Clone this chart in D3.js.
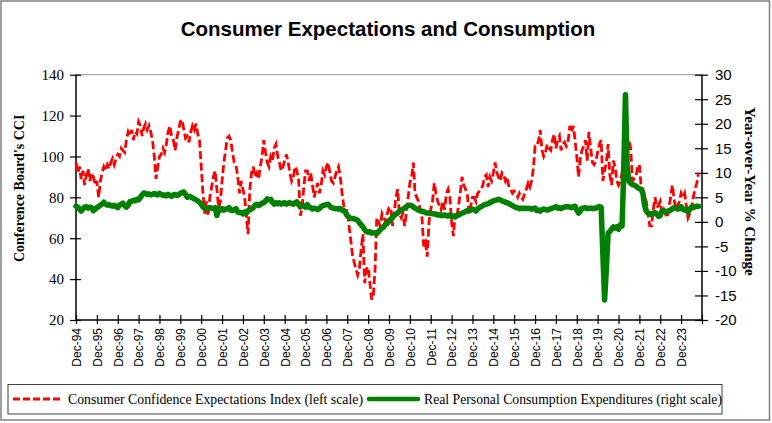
<!DOCTYPE html>
<html><head><meta charset="utf-8">
<script src="https://cdn.jsdelivr.net/npm/d3@7"></script>
<style>
html,body{margin:0;padding:0;background:#fff;}
svg{display:block;}
</style></head>
<body>
<svg id="chart" width="772" height="423"></svg>
<script>
// ---- DATA (monthly, starting Dec 1994) ----
const startYear = 1994, startMonth = 11; // Dec 1994
const cci = [97,
 92,95,89,93,86,91,94,88,92,90,86,88,
 80,88,92,95,93,96,94,97,99,96,99,101,
 100,104,103,102,108,112,110,113,108,112,111,117,
 115,110,114,116,113,115,112,108,100,89,95,100,
 101,104,102,106,112,115,110,108,103,109,113,117,
 118,113,109,110,107,112,115,113,116,111,108,95,
 82,72,78,71,80,85,90,93,84,75,78,88,
 97,103,109,110,108,102,97,96,90,82,88,84,
 80,70,62,84,92,95,90,92,89,95,100,108,
 102,97,95,100,98,104,106,100,97,93,95,98,
 101,97,92,88,90,95,93,89,71,75,85,93,
 93,88,92,86,80,84,87,82,86,93,91,95,
 97,92,88,87,90,93,95,90,82,76,72,74,
 66,59,52,48,45,42,45,55,62,38,45,46,
 38,30,32,45,70,68,66,72,70,68,72,75,
 75,66,72,80,84,72,70,72,66,72,80,87,
 90,97,82,80,78,74,70,56,58,51,68,74,
 78,87,82,78,76,74,78,74,82,84,80,68,
 61,72,70,76,82,90,86,84,82,72,76,80,
 80,78,82,83,84,86,90,91,85,90,88,92,
 97,92,90,88,92,91,88,90,85,84,82,83,
 82,80,82,80,79,82,84,87,85,88,94,105,
 105,108,113,103,100,102,106,104,103,108,111,104,
 108,110,103,106,107,105,107,115,112,115,108,100,
 90,99,103,105,108,98,112,104,97,96,98,102,
 106,108,88,93,97,106,91,86,98,95,88,86,
 88,92,100,104,100,108,104,88,89,90,95,96,
 85,84,80,78,72,66,66,74,80,75,76,78,
 72,74,72,70,75,80,86,79,74,76,78,82,
 80,82,76,70,72,75,80,84,87,92];
const pce = [3.2,
 3.0,2.6,2.2,2.6,3.0,3.1,2.8,3.0,2.9,2.3,2.6,2.9,
 3.1,3.4,3.6,4.0,3.6,3.4,3.5,3.3,3.2,3.4,3.1,2.9,
 3.4,3.6,3.8,3.3,3.0,3.4,4.1,4.2,4.4,4.3,4.6,4.5,
 5.0,5.5,5.9,5.8,5.6,5.7,5.5,5.6,5.8,5.6,5.5,5.8,
 5.6,5.4,5.5,5.3,5.6,5.4,5.2,5.5,5.6,5.4,5.5,5.8,
 6.0,6.1,5.6,5.0,5.2,5.1,4.9,4.7,4.5,4.3,4.0,3.6,
 3.0,2.8,2.7,2.8,2.9,2.8,2.7,2.9,1.3,2.8,2.4,2.7,
 2.4,2.6,2.6,2.9,2.4,2.3,2.5,2.7,2.0,1.9,1.9,1.6,
 2.0,1.8,2.3,2.5,2.6,2.9,3.4,3.6,3.3,3.5,3.8,3.9,
 4.3,4.7,4.5,4.6,4.0,3.6,3.9,3.7,3.9,3.6,3.8,3.9,
 3.6,3.8,3.9,3.7,3.6,3.9,4.1,3.5,3.1,3.2,3.3,3.0,
 3.5,3.0,2.9,2.6,2.8,2.7,2.5,2.7,3.1,3.3,3.4,3.5,
 3.6,3.2,2.9,2.8,2.7,2.7,2.6,2.7,2.4,2.3,1.9,1.3,
 0.9,0.7,0.7,0.6,0.5,0.3,-0.2,-0.6,-1.0,-1.6,-2.0,-2.1,
 -2.0,-2.3,-2.2,-2.3,-2.4,-2.0,-1.6,-1.3,-1.0,-0.5,-0.3,0.2,
 0.5,0.9,1.3,1.6,1.8,2.2,2.4,2.6,2.8,3.1,3.3,3.4,
 3.3,3.0,2.8,2.6,2.4,2.3,2.1,2.1,1.9,1.8,1.8,1.7,
 1.7,1.6,1.6,1.4,1.5,1.3,1.3,1.4,1.3,1.2,1.4,1.1,
 1.2,1.0,1.3,1.4,1.6,1.8,1.9,2.1,2.3,2.3,2.4,2.6,
 2.5,2.2,2.6,2.9,3.1,3.3,3.5,3.6,3.7,3.9,4.1,4.3,
 4.4,4.5,4.6,4.5,4.3,4.2,4.0,3.9,3.7,3.5,3.3,3.1,
 2.9,2.9,2.7,2.8,2.7,2.8,2.7,2.8,2.7,2.6,2.7,2.8,
 2.3,2.4,2.2,2.5,2.6,2.5,2.4,2.5,2.7,2.8,2.9,3.1,
 2.8,2.9,2.7,2.9,3.0,3.1,3.1,3.0,2.9,3.1,3.2,2.4,
 1.8,2.2,2.8,2.8,2.9,2.7,2.8,2.8,2.7,2.8,2.8,3.0,
 3.1,3.0,-6.4,-15.9,-9.8,-2.3,-2.0,-1.5,-1.0,-1.3,-1.0,-1.5,
 -0.6,-0.8,10.0,25.9,11.0,8.3,7.9,7.6,7.5,7.3,7.0,6.8,
 6.6,5.8,3.4,2.2,1.8,1.6,1.5,1.8,1.9,1.6,1.1,1.3,
 2.2,2.3,2.0,2.1,2.2,2.4,2.7,2.9,2.8,2.6,2.7,3.1,
 2.6,2.4,2.5,2.0,2.6,3.0,2.9,3.1,3.2,3.2];
const xTickYears = d3.range(1994, 2025);           // Dec ticks 1994..2024
const xTickLabels = d3.range(1994, 2024).map(y => "Dec-" + String(y).slice(2));
const leftTicks = [20, 40, 60, 80, 100, 120, 140];
const rightTicks = [-20, -15, -10, -5, 0, 5, 10, 15, 20, 25, 30];
const seriesNames = ["Consumer Confidence Expectations Index (left scale)",
                     "Real Personal Consumption Expenditures (right scale)"];
const titleText = "Consumer Expectations and Consumption";
const leftTitle = "Conference Board's CCI";
const rightTitle = "Year-over-Year % Change";

// ---- LAYOUT ----
const svg = d3.select("#chart");
const L = 76, R = 702, T = 74.7, B = 320;
const SERIF = "'Liberation Serif', 'Times New Roman', serif";
const SANS = "'Liberation Sans', Arial, sans-serif";
const dateOf = i => new Date(startYear, startMonth + i, 1);

const x = d3.scaleTime().domain([new Date(1994, 11, 1), new Date(2024, 11, 1)]).range([L, R]);
const yL = d3.scaleLinear().domain([20, 140]).range([B, T]);
const yR = d3.scaleLinear().domain([-20, 30]).range([B, T]);

// outer frame
svg.append("rect").attr("x", 1).attr("y", 1).attr("width", 768.5).attr("height", 419)
  .attr("fill", "none").attr("stroke", "#808080").attr("stroke-width", 1.5);

// title
svg.append("text").attr("x", 388).attr("y", 36).attr("text-anchor", "middle")
  .style("font-family", SANS).attr("font-weight", "bold")
  .attr("font-size", 20.5).attr("fill", "#000").text(titleText);

// top border of plot
svg.append("line").attr("x1", L).attr("x2", R).attr("y1", T).attr("y2", T)
  .attr("stroke", "#a6a6a6").attr("stroke-width", 1.2);

// left axis
const gL = svg.append("g").attr("transform", `translate(${L},0)`)
  .call(d3.axisLeft(yL).tickValues(leftTicks).tickSize(6).tickPadding(6).tickFormat(d3.format("d")));
gL.selectAll(".tick line").clone().attr("x2", 5);
gL.selectAll("text").style("font-family", SERIF).style("font-size", "15px").attr("fill", "#000");

// right axis
const gR = svg.append("g").attr("transform", `translate(${R},0)`)
  .call(d3.axisRight(yR).tickValues(rightTicks).tickSize(6).tickPadding(7).tickFormat(d => d < 0 ? "-" + Math.abs(d) : String(d)));
gR.selectAll(".tick line").clone().attr("x2", -7);
gR.selectAll("text").style("font-family", SANS).style("font-size", "15px").attr("fill", "#000");

// bottom axis
const tickDates = xTickYears.map(y => new Date(y, 11, 1));
const gB = svg.append("g").attr("transform", `translate(0,${B})`)
  .call(d3.axisBottom(x).tickValues(tickDates).tickSize(4).tickFormat((d, i) => xTickLabels[i] || ""));
gB.selectAll(".tick line").clone().attr("y2", -5);
gB.selectAll("text")
  .style("font-family", SANS).style("font-size", "12px").attr("fill", "#000")
  .attr("text-anchor", "end").attr("transform", "rotate(-90)")
  .attr("x", -8).attr("y", 0).attr("dy", "0.36em");

[gL, gR, gB].forEach(g => {
  g.select(".domain").attr("stroke", "#000").attr("stroke-width", 1.5);
  g.selectAll(".tick line").attr("stroke", "#000").attr("stroke-width", 1.2);
});
gB.select(".domain").attr("d", `M${L},0H${R}`);
gL.select(".domain").attr("d", `M0,${T}V${B}`);
gR.select(".domain").attr("d", `M0,${T}V${B}`);

// axis titles
svg.append("text").attr("transform", `translate(19,${(T + B) / 2 - 9}) rotate(-90)`)
  .attr("text-anchor", "middle").attr("dy", "0.35em")
  .style("font-family", SERIF).attr("font-weight", "bold")
  .attr("font-size", 14).text(leftTitle);
svg.append("text").attr("transform", `translate(750,${(T + B) / 2 - 6}) rotate(90)`)
  .attr("text-anchor", "middle").attr("dy", "0.35em")
  .style("font-family", SERIF).attr("font-weight", "bold")
  .attr("font-size", 15).text(rightTitle);

// series
const lineL = d3.line().x((d, i) => x(dateOf(i))).y(d => yL(d));
const lineR = d3.line().x((d, i) => x(dateOf(i))).y(d => yR(d));

svg.append("path").datum(cci).attr("d", lineL)
  .attr("fill", "none").attr("stroke", "#ff0000").attr("stroke-width", 2.8)
  .attr("stroke-dasharray", "8,3.5");
svg.append("path").datum(pce).attr("d", lineR)
  .attr("fill", "none").attr("stroke", "#008000").attr("stroke-width", 5.5)
  .attr("stroke-linejoin", "round").attr("stroke-linecap", "round");

// legend
const lg = svg.append("g");
lg.append("rect").attr("x", 8).attr("y", 384.5).attr("width", 714).attr("height", 29.5)
  .attr("fill", "#fff").attr("stroke", "#404040").attr("stroke-width", 1);
lg.append("line").attr("x1", 13).attr("x2", 63).attr("y1", 399).attr("y2", 399)
  .attr("stroke", "#ff0000").attr("stroke-width", 2.8).attr("stroke-dasharray", "7,3");
lg.append("text").attr("x", 68).attr("y", 399).attr("dy", "0.35em")
  .style("font-family", SERIF).attr("font-size", 14)
  .attr("textLength", 295).attr("lengthAdjust", "spacingAndGlyphs")
  .text(seriesNames[0]);
lg.append("line").attr("x1", 369).attr("x2", 418).attr("y1", 399).attr("y2", 399)
  .attr("stroke", "#008000").attr("stroke-width", 4.5).attr("stroke-linecap", "round");
lg.append("text").attr("x", 424).attr("y", 399).attr("dy", "0.35em")
  .style("font-family", SERIF).attr("font-size", 14)
  .attr("textLength", 298).attr("lengthAdjust", "spacingAndGlyphs")
  .text(seriesNames[1]);
</script>
</body></html>
